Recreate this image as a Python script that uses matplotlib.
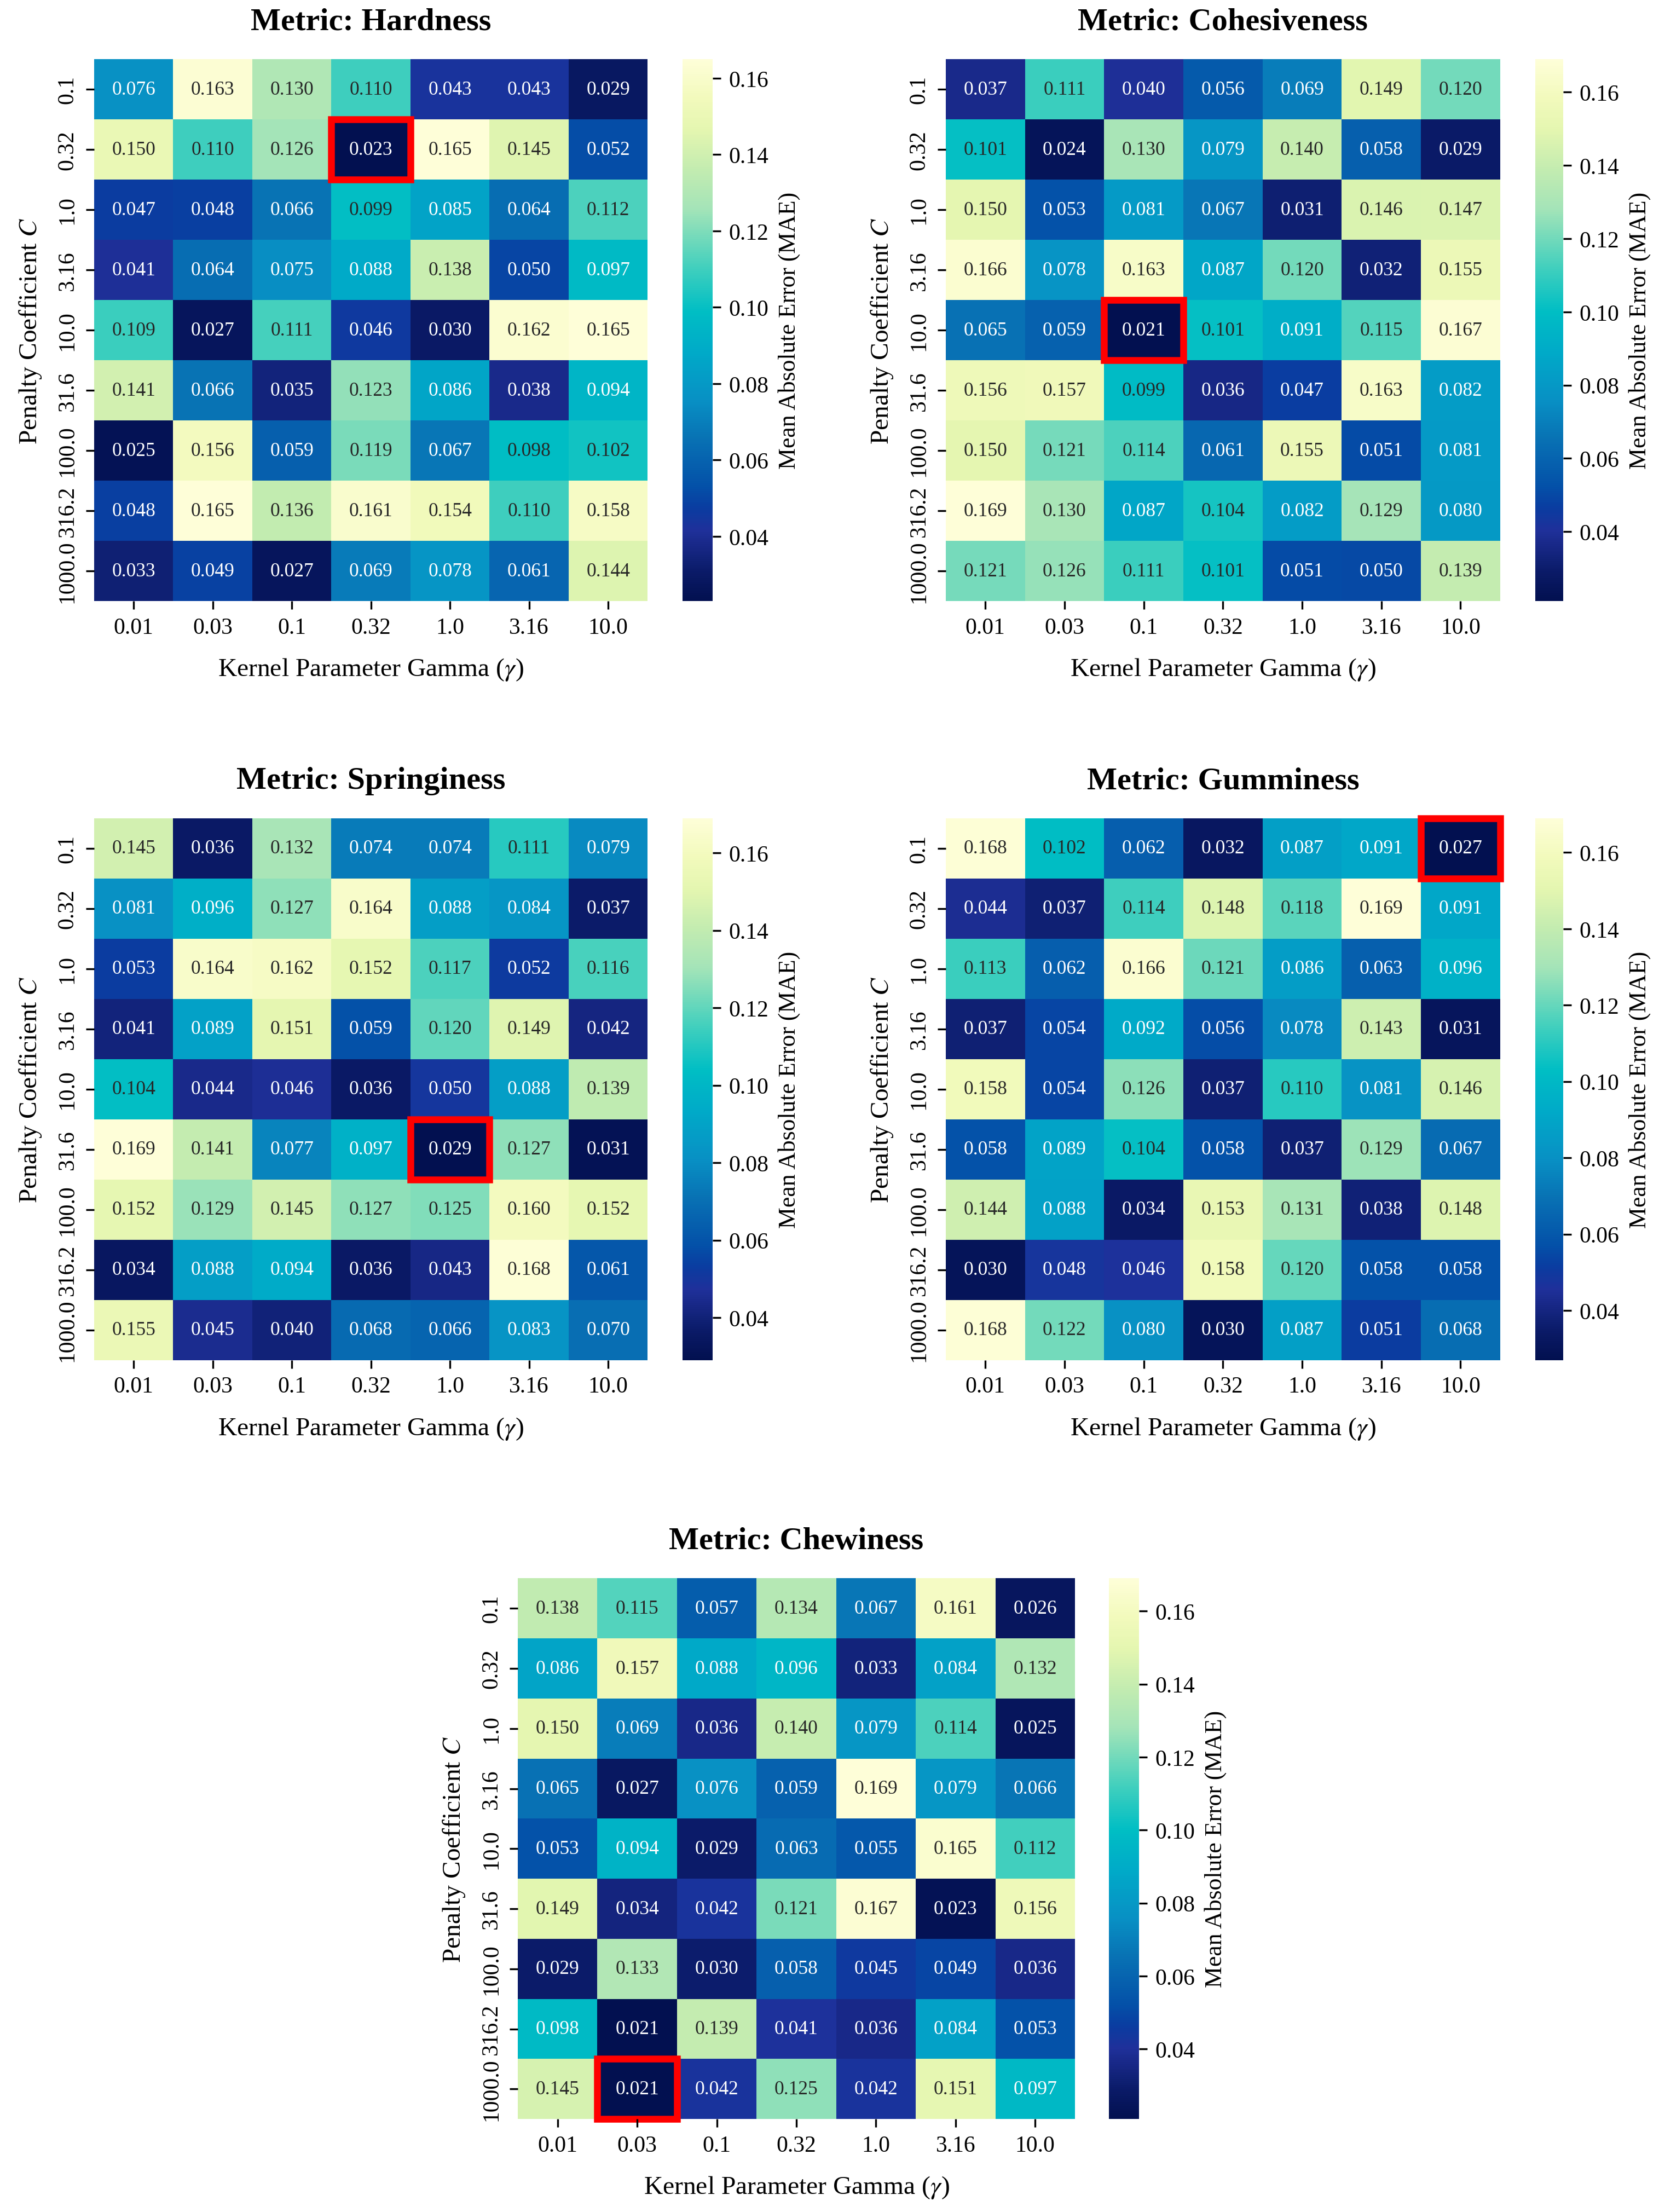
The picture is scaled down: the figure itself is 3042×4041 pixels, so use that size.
import matplotlib
matplotlib.use("Agg")
import matplotlib.pyplot as plt
import numpy as np
import seaborn as sns
from matplotlib.colors import LinearSegmentedColormap, Normalize
from matplotlib.patches import Rectangle

plt.rcParams["font.family"] = ["Liberation Serif", "DejaVu Serif"]
plt.rcParams["mathtext.fontset"] = "stix"

# grid axes
gamma_labels = ["0.01", "0.03", "0.1", "0.32", "1.0", "3.16", "10.0"]
c_labels = ["0.1", "0.32", "1.0", "3.16", "10.0", "31.6", "100.0", "316.2", "1000.0"]

# MAE per metric, rows = C, cols = gamma
hardness = [
    [0.076, 0.163, 0.130, 0.110, 0.043, 0.043, 0.029],
    [0.150, 0.110, 0.126, 0.023, 0.165, 0.145, 0.052],
    [0.047, 0.048, 0.066, 0.099, 0.085, 0.064, 0.112],
    [0.041, 0.064, 0.075, 0.088, 0.138, 0.050, 0.097],
    [0.109, 0.027, 0.111, 0.046, 0.030, 0.162, 0.165],
    [0.141, 0.066, 0.035, 0.123, 0.086, 0.038, 0.094],
    [0.025, 0.156, 0.059, 0.119, 0.067, 0.098, 0.102],
    [0.048, 0.165, 0.136, 0.161, 0.154, 0.110, 0.158],
    [0.033, 0.049, 0.027, 0.069, 0.078, 0.061, 0.144],
]
cohesiveness = [
    [0.037, 0.111, 0.040, 0.056, 0.069, 0.149, 0.120],
    [0.101, 0.024, 0.130, 0.079, 0.140, 0.058, 0.029],
    [0.150, 0.053, 0.081, 0.067, 0.031, 0.146, 0.147],
    [0.166, 0.078, 0.163, 0.087, 0.120, 0.032, 0.155],
    [0.065, 0.059, 0.021, 0.101, 0.091, 0.115, 0.167],
    [0.156, 0.157, 0.099, 0.036, 0.047, 0.163, 0.082],
    [0.150, 0.121, 0.114, 0.061, 0.155, 0.051, 0.081],
    [0.169, 0.130, 0.087, 0.104, 0.082, 0.129, 0.080],
    [0.121, 0.126, 0.111, 0.101, 0.051, 0.050, 0.139],
]
springiness = [
    [0.145, 0.036, 0.132, 0.074, 0.074, 0.111, 0.079],
    [0.081, 0.096, 0.127, 0.164, 0.088, 0.084, 0.037],
    [0.053, 0.164, 0.162, 0.152, 0.117, 0.052, 0.116],
    [0.041, 0.089, 0.151, 0.059, 0.120, 0.149, 0.042],
    [0.104, 0.044, 0.046, 0.036, 0.050, 0.088, 0.139],
    [0.169, 0.141, 0.077, 0.097, 0.029, 0.127, 0.031],
    [0.152, 0.129, 0.145, 0.127, 0.125, 0.160, 0.152],
    [0.034, 0.088, 0.094, 0.036, 0.043, 0.168, 0.061],
    [0.155, 0.045, 0.040, 0.068, 0.066, 0.083, 0.070],
]
gumminess = [
    [0.168, 0.102, 0.062, 0.032, 0.087, 0.091, 0.027],
    [0.044, 0.037, 0.114, 0.148, 0.118, 0.169, 0.091],
    [0.113, 0.062, 0.166, 0.121, 0.086, 0.063, 0.096],
    [0.037, 0.054, 0.092, 0.056, 0.078, 0.143, 0.031],
    [0.158, 0.054, 0.126, 0.037, 0.110, 0.081, 0.146],
    [0.058, 0.089, 0.104, 0.058, 0.037, 0.129, 0.067],
    [0.144, 0.088, 0.034, 0.153, 0.131, 0.038, 0.148],
    [0.030, 0.048, 0.046, 0.158, 0.120, 0.058, 0.058],
    [0.168, 0.122, 0.080, 0.030, 0.087, 0.051, 0.068],
]
chewiness = [
    [0.138, 0.115, 0.057, 0.134, 0.067, 0.161, 0.026],
    [0.086, 0.157, 0.088, 0.096, 0.033, 0.084, 0.132],
    [0.150, 0.069, 0.036, 0.140, 0.079, 0.114, 0.025],
    [0.065, 0.027, 0.076, 0.059, 0.169, 0.079, 0.066],
    [0.053, 0.094, 0.029, 0.063, 0.055, 0.165, 0.112],
    [0.149, 0.034, 0.042, 0.121, 0.167, 0.023, 0.156],
    [0.029, 0.133, 0.030, 0.058, 0.045, 0.049, 0.036],
    [0.098, 0.021, 0.139, 0.041, 0.036, 0.084, 0.053],
    [0.145, 0.0208, 0.042, 0.125, 0.042, 0.151, 0.097],
]

metrics = ["Hardness", "Cohesiveness", "Springiness", "Gumminess", "Chewiness"]
tables = [hardness, cohesiveness, springiness, gumminess, chewiness]

# a punchier YlGnBu_r, matched by eye to the figure
cmap = LinearSegmentedColormap.from_list("ylgnbu_vivid", [
    (0.00, "#021050"), (0.05, "#0a1a66"), (0.13, "#1f309a"), (0.17, "#0a3ca0"),
    (0.21, "#0450a8"), (0.30, "#0872b4"), (0.37, "#0890c4"), (0.46, "#00aac8"),
    (0.535, "#00bec4"), (0.61, "#3ccebe"), (0.725, "#a4e4b8"), (0.80, "#c4ecb0"),
    (0.87, "#e4f6b0"), (0.93, "#f2fabc"), (1.00, "#fefed8"),
])

# [left, bottom, width, height] of heatmap and colorbar, figure fraction
layout = [
    ([0.0565, 0.728, 0.3325, 0.245], [0.410, 0.728, 0.018, 0.245]),
    ([0.568, 0.728, 0.333, 0.245], [0.922, 0.728, 0.017, 0.245]),
    ([0.0565, 0.385, 0.3325, 0.245], [0.410, 0.385, 0.018, 0.245]),
    ([0.568, 0.385, 0.333, 0.245], [0.922, 0.385, 0.017, 0.245]),
    ([0.311, 0.042, 0.3346, 0.2444], [0.666, 0.042, 0.018, 0.2444]),
]

fig = plt.figure(figsize=(10.14, 13.4733), dpi=300)

for name, table, (pos, cpos) in zip(metrics, tables, layout):
    ax = fig.add_axes(pos)
    cax = fig.add_axes(cpos)
    data = np.array(table)
    sns.heatmap(
        data, ax=ax, cbar_ax=cax, cmap=cmap,
        annot=True, fmt=".3f", annot_kws={"size": 8.5},
        xticklabels=gamma_labels, yticklabels=c_labels,
        cbar_kws={"label": "Mean Absolute Error (MAE)"},
    )
    # dark text on the light half, white on the dark half
    norm = Normalize(data.min(), data.max())
    for txt, v in zip(ax.texts, data.ravel()):
        txt.set_color(".15" if norm(v) > 0.524 else "w")

    # highlight best parameter pair
    r, c = np.unravel_index(np.argmin(data), data.shape)
    ax.add_patch(Rectangle((c, r), 1, 1, fill=False, edgecolor="red", lw=3, clip_on=False))

    ax.set_title(f"Metric: {name}", fontsize=14, fontweight="bold", pad=13)
    ax.set_xlabel(r"Kernel Parameter Gamma ($\gamma$)", fontsize=11.4, labelpad=8)
    ax.set_ylabel(r"Penalty Coefficient $C$", fontsize=11.4, labelpad=6)
    ax.tick_params(axis="both", labelsize=10)
    plt.setp(ax.get_xticklabels(), rotation=0)
    plt.setp(ax.get_yticklabels(), rotation=90, va="center")
    cax.tick_params(labelsize=10)
    cax.yaxis.label.set_size(10.5)

fig.savefig("out.png", dpi=300)
